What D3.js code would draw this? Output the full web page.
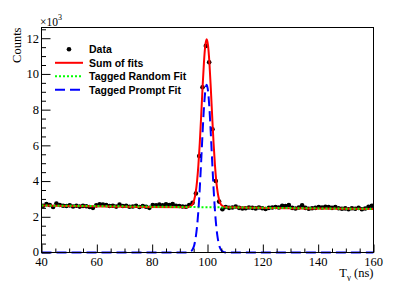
<!DOCTYPE html>
<html>
<head>
<meta charset="utf-8">
<script src="https://cdn.jsdelivr.net/npm/d3@7"></script>
<style>
  html, body { margin: 0; padding: 0; background: #fff; }
  svg { display: block; }
  .tick-label { font-family: "Liberation Serif", "DejaVu Serif", serif; font-size: 12.5px; fill: #000; }
  .legend-label { font-family: "Liberation Sans", Arial, sans-serif; font-size: 10.5px; font-weight: bold; fill: #000; }
</style>
</head>
<body>
<svg id="chart" width="415" height="281"></svg>
<script>
// Data bins (bin centres in ns, counts in units of 10^3)
const binCenters = d3.range(100).map((i) => 40.6 + 1.2 * i);
const counts = [
  2.62, 2.72, 2.66, 2.55, 2.74, 2.66, 2.62, 2.60, 2.64, 2.58,
  2.62, 2.57, 2.61, 2.59, 2.55, 2.50, 2.64, 2.70, 2.68, 2.66,
  2.60, 2.62, 2.57, 2.68, 2.60, 2.62, 2.56, 2.58, 2.62, 2.55,
  2.60, 2.56, 2.50, 2.66, 2.64, 2.68, 2.64, 2.70, 2.66, 2.72,
  2.62, 2.60, 2.58, 2.56, 2.66, 2.78, 3.30, 5.40, 9.25, 11.57,
  10.65, 6.90, 4.00, 2.85, 2.42, 2.55, 2.50, 2.52, 2.58, 2.50,
  2.46, 2.48, 2.52, 2.50, 2.47, 2.52, 2.48, 2.44, 2.50, 2.52,
  2.55, 2.52, 2.62, 2.60, 2.66, 2.50, 2.46, 2.52, 2.64, 2.50,
  2.45, 2.48, 2.50, 2.55, 2.52, 2.56, 2.54, 2.50, 2.55, 2.48,
  2.45, 2.47, 2.42, 2.48, 2.45, 2.50, 2.42, 2.46, 2.56, 2.62
];

// Fit curves
const randomX = [40, 160];
const randomY = [2.63, 2.44];

const promptX = [40, 92.7, 93.2, 93.7, 94.2, 94.7, 95.2, 95.7, 96.2, 96.7, 97.2, 97.7, 98.2, 98.7, 99.2,
  99.7, 100.2, 100.7, 101.2, 101.7, 102.2, 102.7, 103.2, 103.7, 104.2, 104.7, 105.2, 105.7, 106.2, 106.7, 160];
const promptY = [0, 0, 0.01, 0.04, 0.09, 0.20, 0.41, 0.80, 1.42, 2.34, 3.58, 5.07, 6.64, 8.06, 9.04,
  9.40, 9.04, 8.06, 6.64, 5.07, 3.58, 2.34, 1.42, 0.80, 0.41, 0.20, 0.09, 0.04, 0.01, 0, 0];
const sumY = [2.63, 2.54, 2.55, 2.58, 2.63, 2.74, 2.95, 3.34, 3.96, 4.88, 6.12, 7.61, 9.18, 10.60, 11.58,
  11.94, 11.58, 10.60, 9.18, 7.61, 6.12, 4.88, 3.96, 3.34, 2.95, 2.74, 2.63, 2.58, 2.55, 2.53, 2.44];

const xTicks = [40, 60, 80, 100, 120, 140, 160];
const yTicks = [0, 2, 4, 6, 8, 10, 12];

const legendItems = [
  { label: 'Data', type: 'marker' },
  { label: 'Sum of fits', type: 'line', color: '#ff0000', dash: null },
  { label: 'Tagged Random Fit', type: 'line', color: '#00ff00', dash: '2,2' },
  { label: 'Tagged Prompt Fit', type: 'line', color: '#0000ff', dash: '10,5' }
];

const svg = d3.select('#chart');
const frame = { left: 41.5, right: 373.5, top: 27.5, bottom: 252.5 };

const xScale = d3.scaleLinear().domain([40, 160]).range([frame.left, frame.right]);
const yScale = d3.scaleLinear().domain([0, 12.6]).range([frame.bottom, frame.top]);

// clip so the fit lines stay in the frame
svg.append('defs').append('clipPath').attr('id', 'clip')
  .append('rect')
  .attr('x', frame.left).attr('y', frame.top - 2)
  .attr('width', frame.right - frame.left).attr('height', frame.bottom - frame.top + 4);

const plot = svg.append('g').attr('clip-path', 'url(#clip)');

// Data points
plot.append('g').selectAll('circle').data(counts).enter().append('circle')
  .attr('cx', (d, i) => xScale(binCenters[i]))
  .attr('cy', (d) => yScale(d))
  .attr('r', 2.3)
  .attr('fill', '#000');

const line = (xs, ys) => d3.line()
  .x((d, i) => xScale(xs[i]))
  .y((d) => yScale(d))
  .curve(d3.curveMonotoneX)(ys);

// Sum of fits
plot.append('path').attr('d', line(promptX, sumY))
  .attr('fill', 'none').attr('stroke', '#ff0000').attr('stroke-width', 2);

// Tagged random fit
plot.append('path').attr('d', line(randomX, randomY))
  .attr('fill', 'none').attr('stroke', '#00ff00').attr('stroke-width', 2)
  .attr('stroke-dasharray', '2,2');

// Tagged prompt fit
plot.append('path').attr('d', line(promptX, promptY))
  .attr('fill', 'none').attr('stroke', '#0000ff').attr('stroke-width', 2)
  .attr('stroke-dasharray', '10,5');

// Frame
svg.append('rect')
  .attr('x', frame.left).attr('y', frame.top)
  .attr('width', frame.right - frame.left).attr('height', frame.bottom - frame.top)
  .attr('fill', 'none').attr('stroke', '#000').attr('stroke-width', 1);

// Axes (ROOT style: ticks pointing inside)
const xAxis = d3.axisTop(xScale).tickValues(xTicks).tickSize(8).tickFormat('');
const xMinor = d3.axisTop(xScale).tickValues(d3.range(45, 160, 5).filter((v) => v % 20 !== 0)).tickSize(4).tickFormat('');
const yAxis = d3.axisRight(yScale).tickValues(yTicks).tickSize(9).tickFormat('');
const yMinor = d3.axisRight(yScale).tickValues(d3.range(0.5, 12.6, 0.5).filter((v) => v % 2 !== 0)).tickSize(4.5).tickFormat('');

[xAxis, xMinor].forEach((ax) => {
  const g = svg.append('g').attr('transform', `translate(0,${frame.bottom})`).call(ax);
  g.select('.domain').remove();
  g.selectAll('line').attr('stroke', '#000');
});
[yAxis, yMinor].forEach((ax) => {
  const g = svg.append('g').attr('transform', `translate(${frame.left},0)`).call(ax);
  g.select('.domain').remove();
  g.selectAll('line').attr('stroke', '#000');
});

// Tick labels
svg.append('g').selectAll('text').data(xTicks).enter().append('text')
  .attr('class', 'tick-label')
  .attr('x', (d) => xScale(d))
  .attr('y', 266)
  .attr('text-anchor', 'middle')
  .text((d) => d);

svg.append('g').selectAll('text').data(yTicks).enter().append('text')
  .attr('class', 'tick-label')
  .attr('x', 39)
  .attr('y', (d) => yScale(d))
  .attr('dy', (d) => d === 0 ? '0.25em' : '0.35em')
  .attr('text-anchor', 'end')
  .text((d) => d);

// Exponent label
const expo = svg.append('text').attr('class', 'tick-label')
  .attr('x', 40).attr('y', 25.5).style('font-size', '11.5px');
expo.append('tspan').text('×10');
expo.append('tspan').attr('dy', -6).style('font-size', '8px').text('3');

// Axis titles
svg.append('text').attr('class', 'tick-label')
  .attr('transform', `translate(20.5,${frame.top}) rotate(-90)`)
  .attr('text-anchor', 'end')
  .text('Counts');

const xTitle = svg.append('text').attr('class', 'tick-label')
  .attr('x', frame.right).attr('y', 277)
  .attr('text-anchor', 'end');
xTitle.append('tspan').text('T');
xTitle.append('tspan').attr('dy', 3).style('font-size', '9px').text('γ');
xTitle.append('tspan').attr('dy', -3).text(' (ns)');

// Legend
const legend = svg.append('g');
legendItems.forEach((item, i) => {
  const y = 49.3 + i * 13.5;
  if (item.type === 'marker') {
    legend.append('circle').attr('cx', 69).attr('cy', y).attr('r', 2.3).attr('fill', '#000');
  } else {
    legend.append('line')
      .attr('x1', 55).attr('x2', 83).attr('y1', y).attr('y2', y)
      .attr('stroke', item.color).attr('stroke-width', 2)
      .attr('stroke-dasharray', item.dash);
  }
  legend.append('text').attr('class', 'legend-label')
    .attr('x', 89).attr('y', y).attr('dy', '0.36em')
    .text(item.label);
});
</script>
</body>
</html>
